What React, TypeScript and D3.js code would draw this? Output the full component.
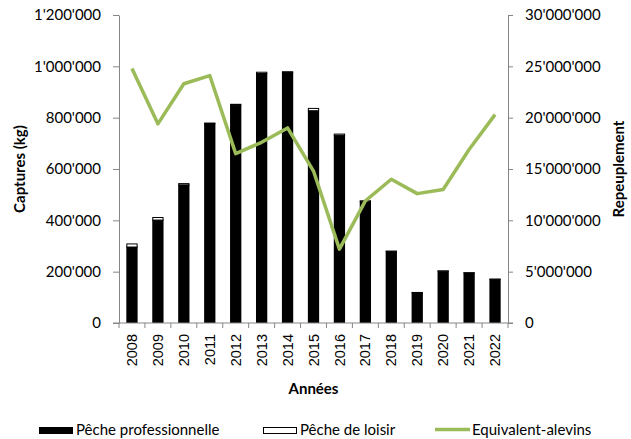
import React, { useEffect, useRef } from 'react';
import * as d3 from 'd3';

// data
const years = ['2008', '2009', '2010', '2011', '2012', '2013', '2014', '2015', '2016', '2017', '2018', '2019', '2020', '2021', '2022'];
const pechePro = [298000, 403000, 540000, 778000, 851000, 974000, 977000, 829000, 733000, 476000, 281000, 120000, 204000, 197000, 172000];
const pecheLoisir = [12000, 10000, 5000, 3000, 3000, 5000, 4000, 9000, 5000, 2000, 1000, 1000, 1000, 1000, 1000];
const alevins = [24800000, 19400000, 23300000, 24100000, 16500000, 17600000, 19000000, 14800000, 7200000, 11900000, 14000000, 12600000, 13000000, 16900000, 20300000];
const leftTicks = [0, 200000, 400000, 600000, 800000, 1000000, 1200000];
const rightTicks = [0, 5000000, 10000000, 15000000, 20000000, 25000000, 30000000];

const fmt = (v: number) => d3.format(',')(v).replace(/,/g, "'");

const App = () => {
    const svgRef = useRef<SVGSVGElement>(null);

    useEffect(() => {
        const svg = d3.select(svgRef.current);
        svg.selectAll('*').remove();

        const width = 631;
        const height = 439;
        const margin = { top: 15, right: 123, bottom: 116, left: 119 };
        const axisColor = '#868686';
        const green = '#9BBB59';
        const font = 'Lato, Calibri, sans-serif';

        const x = d3
            .scaleBand()
            .domain(years)
            .range([margin.left, width - margin.right])
            .paddingInner(0.565)
            .paddingOuter(0.2825);

        const y = d3
            .scaleLinear()
            .domain([0, 1200000])
            .range([height - margin.bottom, margin.top]);

        const y2 = d3
            .scaleLinear()
            .domain([0, 30000000])
            .range([height - margin.bottom, margin.top]);

        // bars
        const bars = svg.append('g');
        bars
            .selectAll('.pro')
            .data(years)
            .join('rect')
            .attr('x', (d) => x(d)!)
            .attr('width', x.bandwidth())
            .attr('y', (d, i) => y(pechePro[i]))
            .attr('height', (d, i) => y(0) - y(pechePro[i]))
            .attr('fill', '#000');

        bars
            .selectAll('.loisir')
            .data(years)
            .join('rect')
            .attr('x', (d) => x(d)! + 0.5)
            .attr('width', x.bandwidth() - 1)
            .attr('y', (d, i) => y(pechePro[i] + pecheLoisir[i]) + 0.5)
            .attr('height', (d, i) => Math.max(0, y(pechePro[i]) - y(pechePro[i] + pecheLoisir[i])))
            .attr('fill', '#fff')
            .attr('stroke', '#000')
            .attr('stroke-width', 1);

        // left axis
        const leftAxis = svg
            .append('g')
            .attr('transform', `translate(${margin.left},0)`)
            .call(d3.axisLeft(y).tickValues(leftTicks).tickFormat((d) => fmt(+d)).tickSize(6).tickPadding(12).tickSizeOuter(0));
        leftAxis.selectAll('path, line').attr('stroke', axisColor);
        leftAxis.selectAll('text').attr('font-family', font).attr('font-size', 15).attr('fill', '#000');

        // right axis
        const rightAxis = svg
            .append('g')
            .attr('transform', `translate(${width - margin.right},0)`)
            .call(d3.axisRight(y2).tickValues(rightTicks).tickFormat((d) => fmt(+d)).tickSize(5).tickPadding(12).tickSizeOuter(0));
        rightAxis.selectAll('path, line').attr('stroke', axisColor);
        rightAxis.selectAll('text').attr('font-family', font).attr('font-size', 15).attr('fill', '#000');

        // x axis
        const xAxis = svg
            .append('g')
            .attr('transform', `translate(0,${height - margin.bottom})`);
        xAxis
            .append('line')
            .attr('x1', margin.left - 6)
            .attr('x2', width - margin.right + 5)
            .attr('stroke', axisColor);
        const step = x.step();
        xAxis
            .selectAll('.xt')
            .data(d3.range(years.length + 1))
            .join('line')
            .attr('x1', (i) => margin.left + i * step)
            .attr('x2', (i) => margin.left + i * step)
            .attr('y1', 0)
            .attr('y2', 5)
            .attr('stroke', axisColor);
        xAxis
            .selectAll('.xl')
            .data(years)
            .join('text')
            .attr('transform', (d) => `translate(${x(d)! + x.bandwidth() / 2},11) rotate(-90)`)
            .attr('text-anchor', 'end')
            .attr('dy', '0.35em')
            .attr('font-family', 'Liberation Sans, Arial, sans-serif')
            .attr('font-size', 14.5)
            .attr('fill', '#000')
            .text((d) => d);

        // line
        const line = d3
            .line<number>()
            .x((d, i) => x(years[i])! + x.bandwidth() / 2)
            .y((d) => y2(d));
        svg
            .append('path')
            .datum(alevins)
            .attr('d', line)
            .attr('fill', 'none')
            .attr('stroke', green)
            .attr('stroke-width', 3.5)
            .attr('stroke-linejoin', 'round');

        // axis titles
        const midY = (margin.top + height - margin.bottom) / 2;
        svg
            .append('text')
            .attr('transform', `translate(25,${midY}) rotate(-90)`)
            .attr('text-anchor', 'middle')
            .attr('font-family', font)
            .attr('font-weight', 'bold')
            .attr('font-size', 15)
            .text('Captures (kg)');
        svg
            .append('text')
            .attr('transform', `translate(624,${midY}) rotate(-90)`)
            .attr('text-anchor', 'middle')
            .attr('font-family', font)
            .attr('font-weight', 'bold')
            .attr('font-size', 15)
            .text('Repeuplement');
        svg
            .append('text')
            .attr('x', (margin.left + width - margin.right) / 2)
            .attr('y', 394)
            .attr('text-anchor', 'middle')
            .attr('font-family', font)
            .attr('font-weight', 'bold')
            .attr('font-size', 15)
            .text('Années');

        // legend
        const legend = svg.append('g').attr('font-family', font).attr('font-size', 15);
        legend.append('rect').attr('x', 39).attr('y', 427).attr('width', 34).attr('height', 7).attr('fill', '#000');
        legend.append('text').attr('x', 76).attr('y', 435).text('Pêche professionnelle');
        legend.append('rect').attr('x', 263.5).attr('y', 427.5).attr('width', 33).attr('height', 6).attr('fill', '#fff').attr('stroke', '#000');
        legend.append('text').attr('x', 300).attr('y', 435).text('Pêche de loisir');
        legend.append('line').attr('x1', 435).attr('x2', 470).attr('y1', 429.5).attr('y2', 429.5).attr('stroke', green).attr('stroke-width', 3.5);
        legend.append('text').attr('x', 472).attr('y', 435).text('Equivalent-alevins');
    }, []);

    return <svg ref={svgRef} width={631} height={439} style={{ position: 'absolute', left: 0, top: 0 }} />;
};

export default App;
